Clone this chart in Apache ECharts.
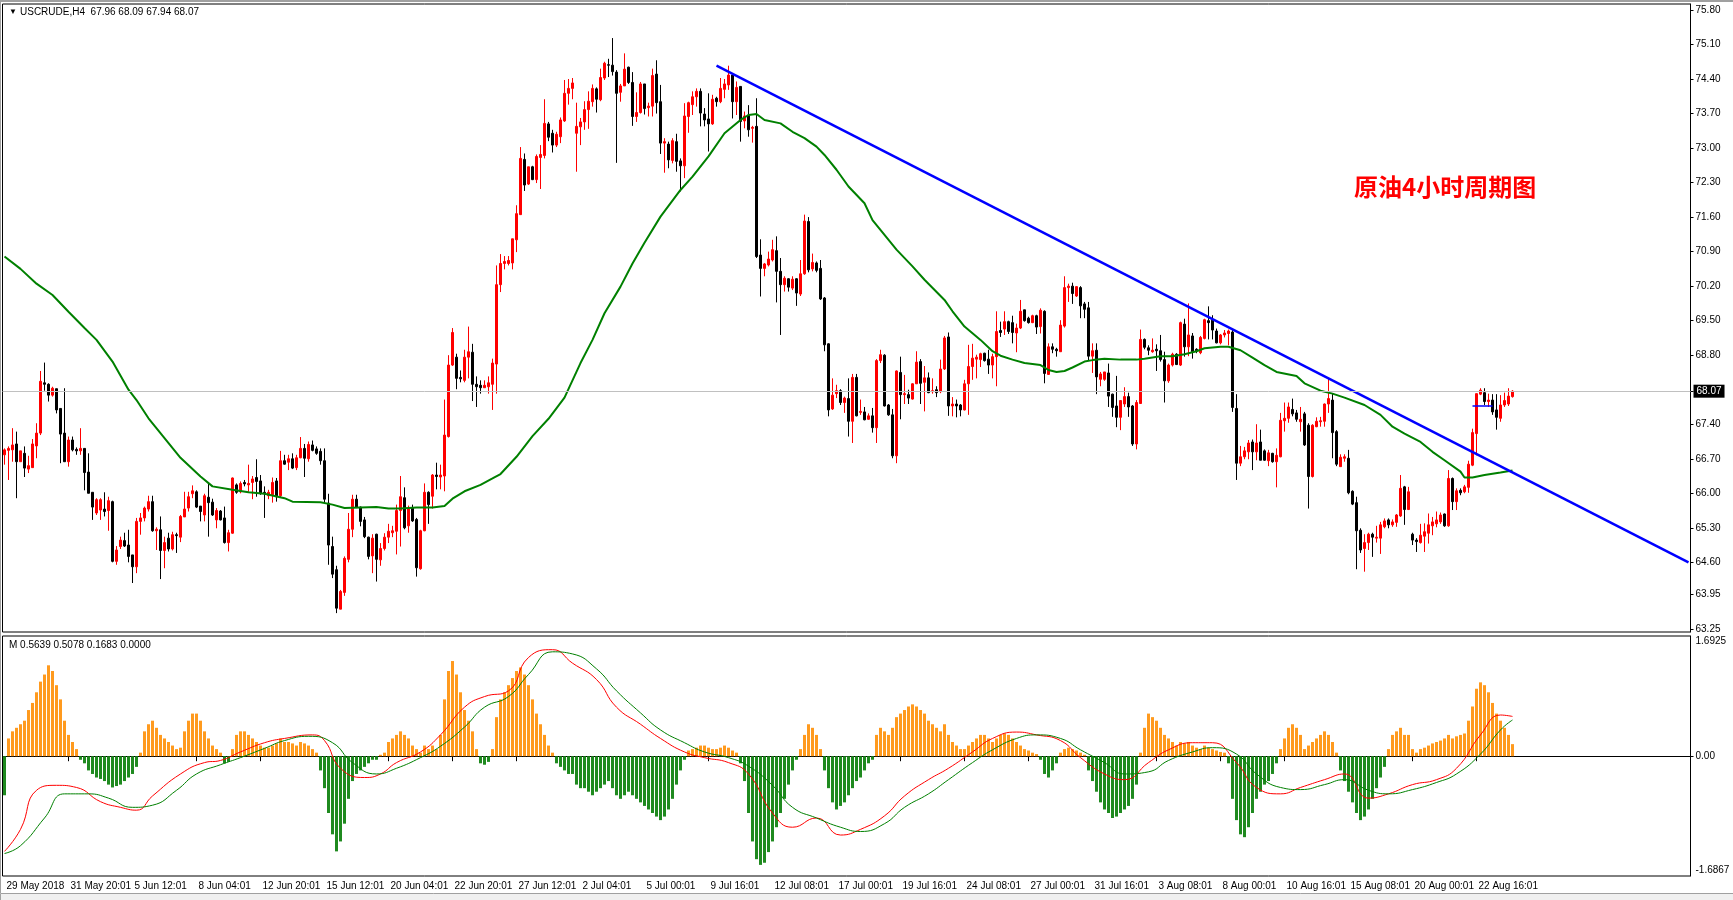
<!DOCTYPE html>
<html><head><meta charset="utf-8">
<script src="https://cdn.jsdelivr.net/npm/echarts@6/dist/echarts.min.js"></script>
<style>html,body{margin:0;padding:0;background:#fff;}#c{width:1733px;height:900px;}</style>
</head><body><div id="c"></div>
<script>
// ---- tick labels (time axis, one every 16 H4 bars) ----
const tickLabels = ['29 May 2018','31 May 20:01','5 Jun 12:01','8 Jun 04:01','12 Jun 20:01','15 Jun 12:01','20 Jun 04:01','22 Jun 20:01','27 Jun 12:01','2 Jul 04:01','5 Jul 00:01','9 Jul 16:01','12 Jul 08:01','17 Jul 00:01','19 Jul 16:01','24 Jul 08:01','27 Jul 00:01','31 Jul 16:01','3 Aug 08:01','8 Aug 00:01','10 Aug 16:01','15 Aug 08:01','20 Aug 00:01','22 Aug 16:01'];
const priceTicks = [75.80,75.10,74.40,73.70,73.00,72.30,71.60,70.90,70.20,69.50,68.80,68.07,67.40,66.70,66.00,65.30,64.60,63.95,63.25];
const macdTicks = [1.6925, 0, -1.6867];
const macdHeader = [0.5639, 0.5078, 0.1683, 0.0000];

// ---- candles: [open, close, low, high] ----
const candles = [
[66.78,66.88,66.58,66.91],[66.87,66.91,66.27,66.95],[66.88,66.98,66.64,67.32],[67.00,66.64,65.90,67.25],[66.64,66.86,66.64,66.86],
[66.81,66.51,66.33,66.95],[66.49,66.56,66.41,66.76],[66.52,67.00,66.52,67.10],[66.96,67.22,66.71,67.42],[67.22,68.27,67.18,68.48],
[68.24,68.21,68.08,68.65],[68.21,67.99,67.86,68.23],[67.99,68.13,67.96,68.16],[68.12,67.69,67.62,68.12],[67.72,67.20,66.61,67.72],
[67.22,66.64,66.64,68.13],[66.64,67.08,66.54,67.15],[67.08,66.88,66.85,67.15],[66.89,66.86,66.78,66.93],[66.86,66.91,66.78,67.32],
[66.91,66.42,66.06,66.91],[66.43,66.00,66.00,66.81],[66.02,65.72,65.46,66.02],[65.60,65.87,65.56,65.90],[65.66,65.87,65.46,65.90],
[65.68,65.63,65.53,66.02],[65.65,65.85,65.24,65.93],[65.83,64.62,64.60,65.85],[64.62,64.85,64.55,64.93],[64.92,65.05,64.87,65.12],
[65.04,64.93,64.91,65.20],[64.95,64.72,64.60,65.26],[64.75,64.51,64.18,64.75],[64.51,65.43,64.38,65.50],[65.43,65.50,65.16,65.60],
[65.50,65.70,65.43,65.73],[65.68,65.83,65.63,65.95],[65.83,65.24,65.22,65.95],[65.24,65.27,64.85,65.31],[65.26,64.84,64.26,65.53],
[64.84,65.00,64.48,65.12],[65.09,64.87,64.82,65.20],[64.87,65.16,64.84,65.22],[65.16,65.14,64.79,65.20],[65.11,65.53,65.01,65.56],
[65.52,65.68,65.52,66.03],[65.70,65.93,65.63,66.03],[65.99,66.05,65.90,66.16],[66.03,65.72,65.70,66.06],[65.74,65.63,65.43,65.74],
[65.56,65.95,65.43,65.99],[65.92,65.81,65.12,66.22],[65.82,65.56,65.54,65.89],[65.46,65.65,65.29,65.70],[65.64,65.46,65.45,65.66],
[65.50,65.00,64.98,65.73],[65.00,65.20,64.82,65.26],[65.19,66.31,65.18,66.32],[66.17,66.02,65.99,66.20],[66.03,66.20,66.00,66.24],
[66.22,66.19,66.14,66.27],[66.17,66.20,66.03,66.58],[66.22,66.29,65.88,66.35],[66.32,66.24,65.93,66.69],[66.25,65.99,65.97,66.37],
[66.02,65.99,65.50,66.14],[65.95,66.02,65.88,66.07],[65.97,66.22,65.81,66.32],[66.25,65.93,65.83,66.31],[65.95,66.66,65.92,66.86],
[66.66,66.59,66.58,66.78],[66.63,66.70,66.47,66.78],[66.70,66.51,66.49,66.81],[66.52,66.72,66.47,66.78],[66.72,66.91,66.71,67.14],
[66.91,66.71,66.33,67.00],[66.70,66.99,66.64,67.05],[66.98,66.87,66.85,67.07],[66.90,66.81,66.78,66.95],[66.85,66.66,66.58,66.91],
[66.66,65.88,65.80,66.91],[65.80,64.95,64.55,65.99],[64.92,64.36,64.28,65.12],[64.45,63.67,63.57,64.53],[63.65,64.01,63.65,64.04],
[63.99,64.68,63.92,64.72],[64.66,65.27,64.60,65.60],[65.27,65.88,65.11,65.97],[65.88,65.72,65.70,65.97],[65.72,65.43,65.33,65.73],
[65.46,65.12,65.09,65.52],[65.11,64.72,64.66,65.12],[64.73,65.09,64.38,65.17],[65.17,64.66,64.21,65.18],[64.65,64.88,64.53,64.99],
[64.88,65.11,64.84,65.19],[65.11,65.23,64.99,65.38],[65.20,65.24,65.11,65.34],[65.23,65.65,64.76,65.77],[65.65,65.93,64.92,66.35],
[65.91,65.30,65.27,66.12],[65.34,65.69,65.20,65.75],[65.71,65.44,65.42,65.77],[65.47,64.49,64.31,65.50],[64.47,65.24,64.45,65.26],
[65.24,66.02,65.23,66.20],[66.02,65.77,65.38,66.04],[65.94,66.37,65.69,66.39],[66.37,66.34,66.08,66.62],[66.33,66.37,66.08,66.58],
[66.35,67.18,66.04,67.90],[67.15,68.60,67.13,68.80],[68.60,69.26,68.58,69.35],[68.76,68.33,68.11,68.83],[68.35,68.32,68.25,68.49],
[68.29,68.76,68.25,68.91],[68.76,68.87,68.33,69.38],[68.86,68.21,67.87,69.03],[68.21,68.16,67.75,68.37],[68.19,68.14,68.02,68.29],
[68.14,68.19,68.14,68.29],[68.16,68.24,68.02,68.37],[68.21,68.64,67.69,68.73],[68.62,70.23,68.02,70.62],[70.23,70.66,70.08,70.85],
[70.66,70.70,70.54,70.81],[70.66,70.72,70.62,70.81],[70.67,71.16,70.54,71.16],[71.14,71.67,70.89,71.84],[71.65,72.79,71.65,73.02],
[72.77,72.25,72.13,72.89],[72.27,72.62,72.25,72.62],[72.62,72.36,72.35,72.64],[72.36,72.83,72.29,72.87],[72.81,72.87,72.17,73.06],
[72.85,73.50,72.79,73.99],[73.49,73.22,73.14,73.53],[73.30,73.06,72.91,73.37],[73.06,73.28,73.02,73.33],[73.23,73.57,73.10,73.62],
[73.55,74.11,73.53,74.38],[74.11,74.21,73.88,74.40],[74.21,74.32,73.99,74.42],[73.30,73.44,72.52,73.92],[73.43,73.53,73.06,73.61],
[73.53,73.78,73.37,73.95],[73.78,73.95,73.39,74.15],[73.94,74.21,73.84,74.29],[74.20,73.99,73.72,74.23],[73.98,74.43,73.95,74.61],
[74.42,74.72,74.38,74.75],[74.69,74.68,74.44,74.81],[74.68,74.55,74.47,75.23],[74.54,74.11,72.70,74.58],[74.13,74.26,73.94,74.30],
[74.26,74.60,74.26,74.92],[74.64,74.33,74.30,74.65],[74.33,73.64,73.45,74.54],[73.64,73.72,73.53,74.13],[73.72,74.30,73.70,74.34],
[74.30,73.80,73.68,74.30],[73.82,73.85,73.64,73.92],[73.85,74.47,73.64,74.61],[74.50,73.92,73.70,74.78],[73.94,73.10,72.88,74.28],
[73.10,73.13,72.50,73.20],[73.08,72.76,72.59,73.13],[72.75,73.15,72.69,73.20],[73.13,72.73,72.52,73.29],[72.74,72.64,72.12,72.79],
[72.64,73.65,72.39,73.91],[73.64,73.92,73.31,73.94],[73.88,74.04,73.67,74.15],[74.04,74.15,73.84,74.21],[74.15,73.71,73.44,74.21],
[73.69,73.57,73.44,73.81],[73.59,73.49,72.93,74.11],[73.49,73.99,73.47,74.08],[74.01,73.94,73.84,74.04],[73.94,74.21,73.91,74.42],
[74.19,74.30,74.01,74.40],[74.28,74.48,74.18,74.67],[74.48,73.94,73.60,74.52],[73.94,74.23,73.67,74.35],[74.25,73.54,73.13,74.25],
[73.55,73.65,73.40,73.74],[73.67,73.37,73.23,73.87],[73.40,73.42,73.11,73.45],[73.44,70.80,70.77,74.01],[70.83,70.56,69.99,71.15],
[70.56,70.65,70.40,70.67],[70.63,70.75,70.60,70.90],[70.73,70.94,70.70,71.14],[70.92,70.50,69.87,71.21],[70.50,70.23,69.21,70.77],
[70.23,70.36,70.09,70.40],[70.35,70.18,70.09,70.36],[70.16,70.34,70.12,70.40],[70.35,70.06,69.80,70.36],[70.04,70.45,70.00,70.73],
[70.45,71.52,70.43,71.65],[71.51,70.53,70.48,71.60],[70.55,70.68,70.50,70.86],[70.67,70.52,70.48,70.70],[70.56,69.94,69.92,70.73],
[69.96,69.01,68.88,69.98],[69.03,67.69,67.56,69.04],[67.71,67.99,67.69,68.33],[68.02,68.08,67.93,68.20],[68.08,67.84,67.79,68.11],
[67.84,67.93,67.63,67.96],[67.92,67.46,67.15,68.33],[67.46,68.35,67.02,68.42],[68.35,67.57,67.56,68.42],[67.64,67.66,67.59,67.90],
[67.65,67.49,67.48,67.75],[67.50,67.57,67.49,67.62],[67.57,67.33,67.23,67.73],[67.33,68.69,67.02,68.72],[68.69,68.81,68.64,68.91],
[68.80,67.77,67.76,68.82],[67.79,67.59,67.57,67.81],[67.59,66.76,66.71,67.71],[66.76,68.48,66.61,68.49],[68.45,68.00,67.50,68.77],
[68.00,68.02,67.81,68.40],[68.00,67.93,67.81,68.10],[67.91,68.22,67.90,68.23],[68.22,68.66,68.22,68.88],[68.67,68.23,67.81,68.72],
[68.25,68.34,67.66,68.58],[68.34,68.04,68.03,68.45],[68.06,68.08,68.02,68.33],[68.10,68.04,67.95,68.17],[68.06,68.52,68.03,68.71],
[68.52,69.15,68.50,69.19],[69.17,67.77,67.57,69.26],[67.77,67.81,67.56,67.95],[67.81,67.77,67.54,67.90],[67.79,67.69,67.56,67.81],
[67.69,68.22,67.68,68.30],[68.22,68.57,67.59,69.01],[68.57,68.74,68.30,69.03],[68.72,68.76,68.33,68.81],[68.71,68.83,68.56,68.85],
[68.84,68.69,68.67,68.85],[68.72,68.60,68.42,68.91],[68.60,68.77,68.33,68.83],[68.77,69.28,68.17,69.69],[69.30,69.26,69.17,69.48],
[69.33,69.48,69.21,69.69],[69.48,69.28,69.23,69.50],[69.46,69.26,69.04,69.60],[69.25,69.35,68.86,69.44],[69.35,69.69,69.33,69.92],
[69.72,69.50,69.48,69.72],[69.55,69.46,69.44,69.58],[69.46,69.60,69.45,69.62],[69.60,69.37,69.23,69.62],[69.38,69.71,69.24,69.75],
[69.69,68.43,68.23,69.71],[68.41,68.97,68.40,69.04],[68.97,68.92,68.84,69.04],[68.92,68.89,68.77,68.95],[68.87,69.41,68.87,69.51],
[69.39,70.17,69.36,70.40],[70.17,70.20,69.88,70.25],[70.20,70.05,69.84,70.27],[70.00,70.19,69.98,70.20],[70.17,69.80,69.55,70.20],
[69.84,69.73,69.55,69.88],[69.76,68.78,68.70,69.88],[68.78,68.89,68.44,69.04],[68.90,68.36,68.01,69.04],[68.31,68.42,68.17,68.46],
[68.31,68.46,68.28,68.46],[68.44,67.97,67.75,68.63],[68.01,67.74,67.55,68.02],[67.77,67.54,67.34,68.38],[67.54,67.88,67.28,67.89],
[67.81,67.96,67.75,68.15],[67.96,67.75,67.55,68.04],[67.77,67.00,66.96,67.79],[67.00,67.84,66.89,67.89],[67.82,69.12,67.81,69.32],
[69.12,68.96,68.92,69.14],[68.95,68.90,68.80,69.00],[68.87,68.90,68.85,69.14],[68.92,68.89,68.48,69.02],[68.89,68.71,68.67,69.21],
[68.71,68.28,67.84,68.87],[68.28,68.60,68.24,68.63],[68.60,68.82,68.57,68.85],[68.82,68.61,68.60,68.84],[68.60,69.46,68.58,69.48],
[69.43,68.97,68.77,69.54],[68.97,69.21,68.78,69.85],[69.19,68.87,68.73,69.25],[68.92,68.89,68.84,68.94],[68.85,69.16,68.82,69.19],
[69.14,69.52,69.12,69.54],[69.50,69.46,69.12,69.79],[69.51,69.31,69.12,69.61],[69.29,69.05,69.04,69.34],[69.05,69.21,69.02,69.23],
[69.21,69.25,69.16,69.31],[69.24,69.29,69.00,69.32],[69.27,67.74,67.65,69.32],[67.72,66.61,66.27,68.01],[66.61,66.74,66.55,66.96],
[66.74,66.86,66.69,66.94],[66.84,67.02,66.69,67.08],[67.04,66.84,66.47,67.09],[66.84,67.02,66.67,67.40],[67.04,66.67,66.67,67.29],
[66.86,66.67,66.66,66.89],[66.66,66.82,66.55,66.88],[66.81,66.64,66.62,66.82],[66.64,66.77,66.12,66.91],[66.74,67.48,66.73,67.63],
[67.47,67.52,67.25,67.84],[67.52,67.75,67.43,67.84],[67.70,67.61,67.56,67.92],[67.63,67.50,67.45,67.69],[67.45,67.50,67.25,67.75],
[67.61,66.98,66.96,67.65],[67.38,66.34,65.69,67.42],[66.34,67.38,66.32,67.40],[67.35,67.46,67.34,67.54],[67.45,67.47,67.35,67.55],
[67.46,67.81,67.35,67.82],[67.81,67.92,67.63,68.33],[67.89,67.23,66.71,68.02],[67.25,66.59,66.55,67.28],[66.54,66.73,66.54,66.79],
[66.71,66.74,66.64,66.79],[66.71,66.01,65.98,66.88],[66.04,65.78,65.76,66.06],[65.81,65.24,64.46,65.93],[65.25,64.85,64.79,65.29],
[64.88,65.00,64.41,65.17],[65.00,65.17,64.85,65.20],[65.17,65.11,64.71,65.20],[65.09,65.11,65.00,65.34],[65.09,65.36,64.77,65.42],
[65.32,65.44,65.29,65.49],[65.46,65.36,65.29,65.49],[65.36,65.42,65.32,65.47],[65.41,65.56,65.32,65.58],[65.54,66.10,65.52,66.37],
[66.13,65.67,65.36,66.15],[65.67,66.03,65.66,66.13],[65.17,65.05,64.95,65.20],[65.05,65.02,64.81,65.09],[65.00,65.15,64.98,65.38],
[65.13,65.22,64.81,65.39],[65.19,65.36,64.98,65.59],[65.34,65.42,65.15,65.52],[65.38,65.46,65.31,65.63],[65.42,65.56,65.38,65.61],
[65.58,65.34,65.32,65.59],[65.34,66.30,65.32,66.47],[66.30,65.83,65.66,66.32],[65.83,66.05,65.66,66.10],[66.06,66.01,65.96,66.10],
[66.03,66.13,66.00,66.17],[66.12,66.59,66.01,66.66],[66.57,67.23,66.55,67.31],[67.21,68.02,66.77,68.02],[68.01,68.09,67.99,68.13],
[68.04,67.86,67.79,68.13],[67.86,67.89,67.75,68.02],[67.89,67.65,67.59,68.01],[67.69,67.54,67.29,68.01],[67.52,67.79,67.45,67.99],
[67.79,67.88,67.75,68.04],[67.81,67.97,67.77,68.13],[67.96,68.07,67.94,68.09]
];

// ---- moving average (green) samples: [bar index, value] ----
const maPoints = [[0,70.80],[4,70.55],[8,70.25],[12,70.02],[16,69.68],[20,69.35],[23,69.11],[27,68.67],[31,68.10],[33,67.89],[36,67.52],[40,67.12],[44,66.72],[49,66.34],[52,66.14],[57,66.07],[61,66.02],[65,65.99],[70,65.90],[72,65.83],[79,65.82],[82,65.77],[85,65.70],[89,65.71],[93,65.72],[96,65.69],[99,65.69],[103,65.71],[107,65.71],[110,65.74],[112,65.89],[115,66.04],[119,66.17],[122,66.30],[124,66.39],[128,66.74],[132,67.16],[136,67.51],[140,67.94],[144,68.64],[147,69.11],[150,69.65],[154,70.19],[157,70.66],[160,71.08],[164,71.61],[169,72.15],[172,72.42],[176,72.83],[180,73.30],[184,73.57],[186,73.67],[188,73.69],[190,73.57],[194,73.50],[197,73.33],[200,73.20],[203,73.03],[205,72.86],[208,72.56],[211,72.22],[215,71.88],[217,71.54],[220,71.24],[223,70.94],[227,70.60],[230,70.33],[235,69.92],[237,69.69],[240,69.38],[244,69.11],[247,68.88],[249,68.79],[252,68.71],[255,68.64],[259,68.60],[261,68.50],[263,68.46],[265,68.48],[267,68.55],[270,68.67],[272,68.70],[275,68.73],[279,68.71],[283,68.71],[285,68.73],[289,68.78],[292,68.78],[295,68.82],[298,68.88],[300,68.94],[304,68.97],[306,68.97],[309,68.90],[312,68.75],[315,68.60],[318,68.46],[323,68.38],[325,68.23],[329,68.08],[332,68.02],[335,67.94],[340,67.79],[344,67.59],[347,67.35],[350,67.21],[354,67.04],[357,66.84],[360,66.67],[364,66.44],[365,66.32],[367,66.32],[370,66.37],[374,66.42],[377,66.46]];

// ---- trend lines: [bar index, price] ----
const trendLine = [[178,74.67],[421,64.60]];
const shortLine = [[367,67.77],[372,67.77]];

// ---- MACD-type histogram, one value per bar ----
const hist = [
-0.55,
0.25,0.35,0.4,0.45,0.5,0.65,0.75,0.9,1.05,1.15,1.28,1.2,1.0,0.8,0.5,0.3,0.2,0.1,-0.05,-0.1,
-0.2,-0.25,-0.3,-0.32,-0.35,-0.4,-0.44,-0.42,-0.4,-0.35,-0.3,-0.25,-0.15,
0.05,
0.35,0.45,0.5,0.4,0.3,0.25,0.2,0.15,0.1,0.12,
0.35,0.5,0.6,0.6,0.5,0.35,
0.25,0.15,0.1,0.05,
-0.1,-0.08,0.1,
0.3,0.35,0.35,0.3,0.25,0.2,0.15,0.12,
0.12,0.15,0.18,0.25,0.2,0.2,0.18,0.15,0.2,0.18,0.15,0.1,0.05,
-0.2,-0.45,-0.8,-1.1,-1.34,
-1.2,-0.95,-0.6,-0.35,-0.25,-0.2,-0.15,
-0.1,-0.05,-0.05,0.02,0.05,
0.2,0.25,0.3,0.35,0.3,0.25,0.15,0.1,
0.05,0.15,0.1,0.15,0.1,0.3,
0.8,1.2,1.34,1.15,0.9,0.65,0.5,0.35,
0.1,-0.1,-0.12,-0.08,0.1,
0.55,0.8,0.9,1.0,1.1,1.2,1.25,1.15,1.0,0.8,0.6,0.45,0.3,
0.15,0.05,
-0.1,-0.15,-0.2,-0.25,-0.25,-0.4,
-0.45,-0.45,-0.5,-0.55,-0.5,-0.45,-0.4,-0.35,-0.45,-0.55,-0.6,-0.55,-0.5,-0.55,-0.6,-0.65,-0.7,-0.75,-0.8,-0.85,-0.9,-0.85,-0.75,-0.6,-0.4,-0.2,-0.05,
0.08,0.1,0.12,0.15,0.15,0.12,0.1,0.1,0.12,0.15,0.12,0.08,0.05,
-0.1,-0.35,-0.8,-1.2,-1.45,-1.53,-1.5,-1.35,-1.2,-1.0,-0.8,-0.6,-0.4,-0.2,-0.05,
0.1,0.3,0.45,0.4,0.3,0.1,
-0.2,-0.45,-0.65,-0.75,-0.7,-0.65,-0.55,-0.45,-0.35,-0.3,-0.2,-0.1,-0.05,
0.3,0.4,0.35,0.3,0.4,0.55,0.6,0.65,0.7,0.73,0.7,0.65,0.6,0.5,0.45,0.4,0.35,0.45,0.3,0.2,0.15,0.1,0.1,
0.15,0.2,0.25,0.3,0.3,0.25,0.2,0.25,0.3,0.32,0.3,0.25,0.2,0.15,0.1,0.08,0.05,0.03,
-0.05,-0.25,-0.3,-0.2,-0.1,0.05,0.1,0.12,
0.1,0.08,0.05,0.02,
-0.2,-0.35,-0.5,-0.65,-0.75,-0.8,-0.87,-0.85,-0.8,-0.75,-0.7,-0.6,-0.4,0.05,
0.4,0.6,0.55,0.5,0.4,0.3,0.25,0.2,0.15,0.2,0.18,0.2,0.15,0.12,0.1,0.15,0.12,0.1,0.08,0.06,0.05,
-0.1,-0.6,-0.9,-1.1,-1.14,-1.0,-0.8,-0.6,-0.5,-0.4,-0.35,-0.25,-0.1,
0.1,0.25,0.4,0.45,0.4,0.3,0.1,0.15,0.2,0.25,0.3,0.35,0.3,0.2,0.05,
-0.2,-0.35,-0.5,-0.65,-0.8,-0.9,-0.85,-0.75,-0.6,-0.45,-0.3,-0.15,
0.1,0.3,0.35,0.4,0.3,0.3,
0.1,0.05,0.1,0.12,0.15,0.18,0.2,0.22,0.25,0.3,0.25,0.28,0.3,0.32,
0.5,0.7,0.95,1.04,1.0,0.9,0.75,0.6,0.5,0.4,0.3,0.17
];

// ---- MACD lines, samples: [bar index, value] ----
const macdRed = [[0,-1.34],[4,-1.03],[8,-0.48],[13,-0.41],[18,-0.44],[24,-0.64],[29,-0.72],[33,-0.76],[37,-0.56],[44,-0.25],[50,-0.09],[54,-0.06],[59,0.06],[65,0.19],[70,0.25],[77,0.30],[80,0.22],[84,-0.17],[90,-0.30],[94,-0.25],[98,-0.09],[104,0.06],[109,0.30],[115,0.69],[120,0.84],[126,0.92],[131,1.39],[137,1.50],[142,1.31],[148,1.08],[153,0.69],[159,0.45],[164,0.25],[170,0.06],[175,-0.02],[181,-0.09],[186,-0.25],[192,-0.80],[197,-1.0],[203,-0.87],[209,-1.11],[214,-1.03],[220,-0.84],[225,-0.56],[231,-0.33],[236,-0.17],[242,0.06],[247,0.25],[253,0.34],[258,0.30],[264,0.22],[269,-0.02],[275,-0.25],[280,-0.33],[286,-0.09],[291,0.09],[297,0.19],[302,0.19],[308,-0.09],[313,-0.44],[319,-0.53],[324,-0.44],[330,-0.33],[335,-0.25],[341,-0.59],[346,-0.53],[352,-0.40],[358,-0.33],[363,-0.17],[369,0.30],[374,0.58],[377,0.56]];
const macdGreen = [[0,-1.37],[4,-1.26],[10,-0.87],[15,-0.53],[21,-0.53],[26,-0.59],[32,-0.72],[37,-0.69],[43,-0.48],[48,-0.25],[54,-0.12],[59,-0.02],[65,0.11],[70,0.22],[76,0.28],[82,0.19],[87,-0.09],[93,-0.25],[98,-0.17],[104,-0.02],[109,0.14],[115,0.41],[120,0.69],[126,0.84],[131,1.15],[137,1.47],[142,1.44],[148,1.23],[153,0.92],[159,0.61],[164,0.37],[170,0.19],[175,0.06],[181,-0.02],[186,-0.14],[192,-0.41],[197,-0.72],[203,-0.87],[209,-1.0],[214,-1.06],[220,-0.95],[225,-0.72],[231,-0.53],[236,-0.33],[242,-0.09],[247,0.09],[253,0.25],[258,0.30],[264,0.25],[269,0.09],[275,-0.09],[280,-0.25],[286,-0.22],[291,-0.06],[297,0.06],[302,0.12],[308,0.03],[313,-0.25],[319,-0.44],[324,-0.47],[330,-0.40],[335,-0.33],[341,-0.48],[346,-0.53],[352,-0.47],[358,-0.37],[363,-0.25],[369,0.03],[374,0.37],[377,0.51]];

// ================= chart =================
const N = 422;               // visible slots (bars + empty right margin)
const cats = Array.from({length: N}, (_, i) => String(i));
const isTick = idx => idx % 16 === 0 && idx / 16 < tickLabels.length;
const last = candles[candles.length - 1];
const FONT = '"Liberation Sans", Arial, sans-serif';
const macdLabelPos = macdTicks.map(v => v * 0.955);

const chart = echarts.init(document.getElementById('c'), null, {renderer: 'canvas'});
chart.setOption({
  animation: false,
  backgroundColor: '#ffffff',
  grid: [
    {left: 2.5, top: 4, width: 1688, height: 628, show: true, borderColor: '#000', borderWidth: 1, backgroundColor: '#fff'},
    {left: 2.5, top: 636, width: 1688, height: 240, show: true, borderColor: '#000', borderWidth: 1, backgroundColor: '#fff'}
  ],
  xAxis: [
    {type: 'category', gridIndex: 0, data: cats, boundaryGap: true, show: false},
    {type: 'category', gridIndex: 1, data: cats, boundaryGap: true,
     axisLine: {show: true, lineStyle: {color: '#000', width: 1}},
     axisTick: {show: true, interval: (i) => isTick(i), alignWithLabel: true, length: 5, lineStyle: {color: '#000'}},
     axisLabel: {show: true, interval: (i) => isTick(i), formatter: (v, i) => tickLabels[i / 16] || '',
       align: 'left', margin: 5, fontSize: 10, color: '#000', fontFamily: FONT, padding: [0, 0, 0, 2]},
     splitLine: {show: false}}
  ],
  yAxis: [
    {type: 'value', gridIndex: 0, position: 'right', min: 63.187, max: 75.921,
     axisLine: {show: true, lineStyle: {color: '#000'}},
     axisTick: {show: true, customValues: priceTicks, length: 3, lineStyle: {color: '#000'}},
     axisLabel: {customValues: priceTicks, formatter: v => v.toFixed(2), fontSize: 10, color: '#000', fontFamily: FONT, margin: 5, padding: [3, 0, 0, 0]},
     splitLine: {show: false}},
    {type: 'value', gridIndex: 1, position: 'right', min: macdTicks[2], max: macdTicks[0],
     axisLine: {show: true, lineStyle: {color: '#000'}},
     axisTick: {show: true, customValues: [0], length: 3, lineStyle: {color: '#000'}},
     axisLabel: {customValues: macdLabelPos, fontSize: 10, color: '#000', fontFamily: FONT, margin: 5,
       formatter: v => { let k = 0, d = 1e9; macdLabelPos.forEach((p, j) => { if (Math.abs(p - v) < d) { d = Math.abs(p - v); k = j; } });
         const t = macdTicks[k]; return t === 0 ? '0.00' : String(t); }},
     splitLine: {show: false}}
  ],
  series: [
    {type: 'candlestick', xAxisIndex: 0, yAxisIndex: 0, data: candles, barWidth: 2,
     itemStyle: {color: '#ff0000', color0: '#000000', borderColor: '#ff0000', borderColor0: '#000000', borderWidth: 1},
     markLine: {silent: true, symbol: ['none', 'none'], animation: false,
       lineStyle: {color: '#c0c0c0', width: 1, type: 'solid'},
       label: {show: true, position: 'end', formatter: last[1].toFixed(2), color: '#fff', backgroundColor: '#000',
         padding: [2, 3, 1, 3], fontSize: 10, fontFamily: FONT, distance: 3},
       data: [{yAxis: last[1]}]},
     z: 2},
    {type: 'line', xAxisIndex: 0, yAxisIndex: 0, data: maPoints, showSymbol: false, smooth: false,
     lineStyle: {color: '#008000', width: 2}, z: 3},
    {type: 'line', xAxisIndex: 0, yAxisIndex: 0, data: trendLine, showSymbol: false,
     lineStyle: {color: '#0000ff', width: 2.5}, z: 4},
    {type: 'line', xAxisIndex: 0, yAxisIndex: 0, data: shortLine, showSymbol: false,
     lineStyle: {color: '#0000ff', width: 1.5}, z: 4},
    {type: 'bar', xAxisIndex: 1, yAxisIndex: 1, barWidth: 3,
     data: hist.map(v => ({value: v, itemStyle: {color: v >= 0 ? '#ff9a1e' : '#1f8a1f'}}))},
    {type: 'line', xAxisIndex: 1, yAxisIndex: 1, data: macdRed, showSymbol: false, smooth: true,
     lineStyle: {color: '#ff0000', width: 1}, z: 3},
    {type: 'line', xAxisIndex: 1, yAxisIndex: 1, data: macdGreen, showSymbol: false, smooth: true,
     lineStyle: {color: '#008000', width: 1}, z: 3}
  ],
  graphic: [
    {type: 'rect', left: 0, top: 0, shape: {width: 1733, height: 2}, style: {fill: '#a0a0a0'}, silent: true},
    {type: 'rect', left: 0, top: 0, shape: {width: 1, height: 893}, style: {fill: '#a0a0a0'}, silent: true},
    {type: 'rect', left: 0, top: 893, shape: {width: 1733, height: 7}, style: {fill: '#f0f0f0', stroke: '#a0a0a0', lineWidth: 1}, silent: true},
    {type: 'text', left: 9, top: 8, style: {text: '\u25BC', fontSize: 8, fill: '#000', font: '8px "DejaVu Sans"'}},
    {type: 'text', left: 20, top: 7, style: {text: 'USCRUDE,H4  ' + [last[0], last[3], last[2], last[1]].map(v => v.toFixed(2)).join(' '),
      fill: '#000', font: '10px ' + FONT}},
    {type: 'text', left: 9, top: 640, style: {text: 'M ' + macdHeader.map(v => v.toFixed(4)).join(' '), fill: '#000', font: '10px ' + FONT}},
    {type: 'text', left: 1354, top: 175, style: {text: '原油4小时周期图', fill: '#ff0000', font: 'bold 24px "Noto Sans CJK SC"'}}
  ]
});
</script></body></html>
